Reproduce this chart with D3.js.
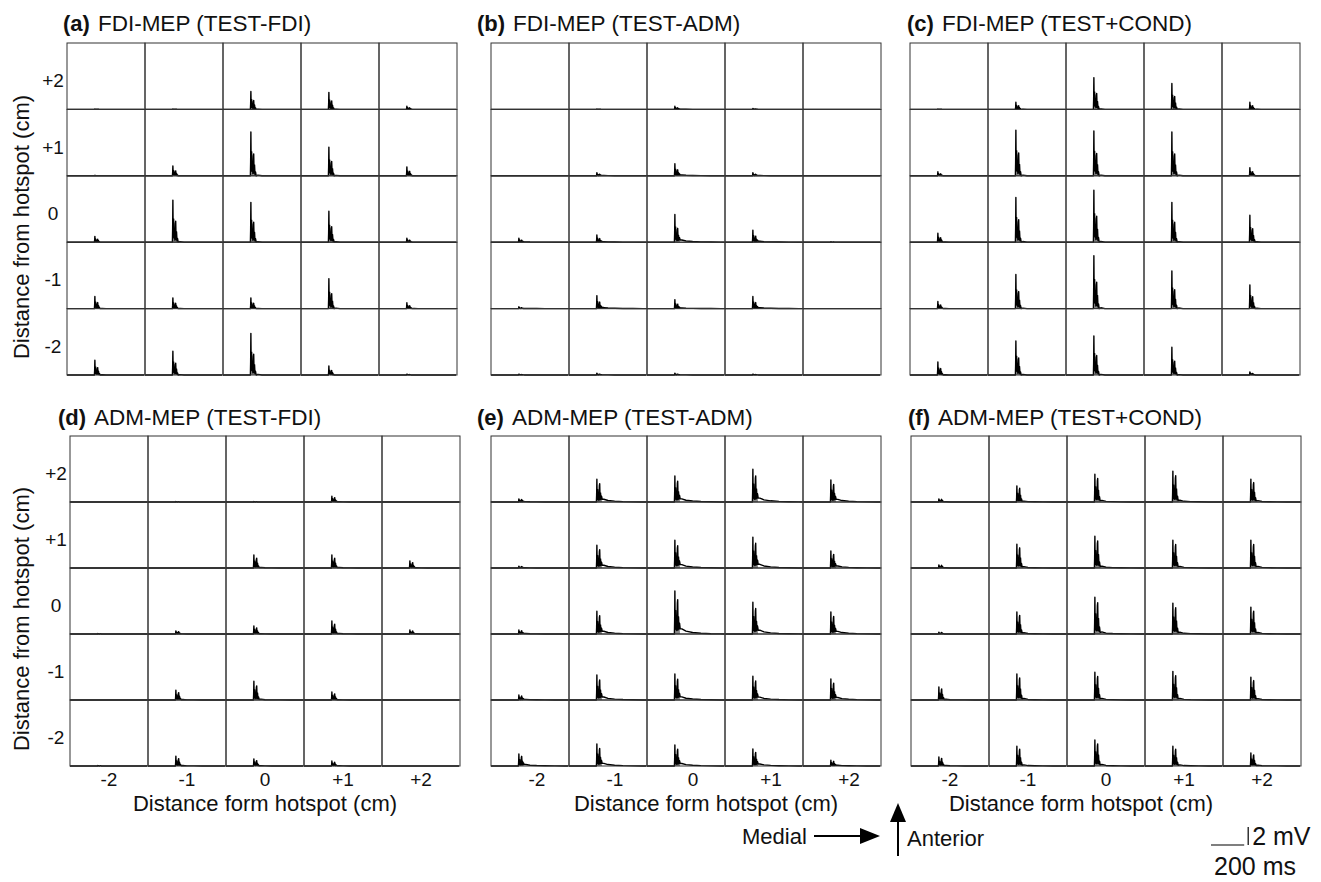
<!DOCTYPE html>
<html>
<head>
<meta charset="utf-8">
<script src="https://cdn.jsdelivr.net/npm/d3@7"></script>
<style>
  body { margin: 0; background: #fff; }
  text { font-family: "Liberation Sans", Arial, Helvetica, sans-serif; fill: #111; }
</style>
</head>
<body>
<div class="fixed"></div>
<script>
// stimulation grid, cm from hotspot
var colLabels = ["-2", "-1", "0", "+1", "+2"];   // medial direction
var rowLabels = ["+2", "+1", "0", "-1", "-2"];   // anterior direction

var panelLetters = ["(a)", "(b)", "(c)", "(d)", "(e)", "(f)"];
var panelTitles = [
    "FDI-MEP (TEST-FDI)", "FDI-MEP (TEST-ADM)", "FDI-MEP (TEST+COND)",
    "ADM-MEP (TEST-FDI)", "ADM-MEP (TEST-ADM)", "ADM-MEP (TEST+COND)"
];

// first MEP peak (mV) in each cell, rows +2 .. -2, columns -2 .. +2
var fdiTestFdi = [
    [0.05, 0.05, 2.0, 1.9, 0.35],
    [0.05, 1.1, 4.9, 3.2, 1.0],
    [0.65, 4.7, 4.45, 3.45, 0.45],
    [1.35, 1.2, 1.2, 3.35, 0.65],
    [1.65, 2.65, 4.65, 1.0, 0.1]
];
var fdiTestAdm = [
    [0, 0.05, 0.35, 0.1, 0],
    [0, 0.35, 1.35, 0.35, 0],
    [0.45, 0.8, 3.1, 1.35, 0.05],
    [0.2, 1.45, 1.0, 1.35, 0],
    [0.1, 0.2, 0.2, 0.1, 0]
];
var fdiTestCond = [
    [0.05, 0.8, 3.55, 2.9, 0.8],
    [0.45, 5.1, 5.0, 4.9, 0.9],
    [1.0, 5.0, 5.8, 4.45, 3.0],
    [0.8, 3.8, 5.9, 4.2, 2.65],
    [1.45, 3.8, 4.35, 3.1, 0.35]
];
var admTestFdi = [
    [0, 0.05, 0.05, 0.65, 0],
    [0, 0, 1.45, 1.45, 0.8],
    [0.05, 0.35, 0.9, 1.45, 0.45],
    [0, 1.1, 2.1, 0.9, 0],
    [0.05, 1.1, 0.8, 0.55, 0]
];
var admTestAdm = [
    [0.35, 2.55, 2.9, 3.65, 2.45],
    [0.2, 2.55, 3.1, 3.45, 1.9],
    [0.45, 2.55, 4.8, 3.55, 2.45],
    [0.55, 2.8, 2.9, 2.65, 2.35],
    [1.35, 2.45, 2.35, 1.9, 0.65]
];
var admTestCond = [
    [0.35, 1.8, 3.1, 3.45, 2.55],
    [0.35, 2.65, 3.55, 3.1, 3.1],
    [0.2, 2.45, 4.1, 3.45, 3.0],
    [1.45, 2.9, 3.1, 3.2, 2.55],
    [1.0, 2.2, 2.9, 2.2, 1.45]
];
var panelPeaks = [fdiTestFdi, fdiTestAdm, fdiTestCond, admTestFdi, admTestAdm, admTestCond];

// size of the second peak and of the slow tail, relative to the first peak
var secondPeak = [0.5, 0.5, 0.5, 0.75, 0.8, 0.85];
var tailLevel  = [0, 0.08, 0, 0.03, 0.12, 0.04];

// averaged MEP shape: ms after onset, weight of 1st peak, of 2nd peak, of tail
var mepShape = [
    [0, 0, 0, 0], [1.5, 0.3, 0, 0], [3, 1, 0, 0], [5, 0.12, 0, 0],
    [7.5, 0.55, 0, 0], [10, 0.1, 0, 0], [12.5, 0.25, 0, 0], [15, 0, 0.1, 0],
    [18, 0, 0.9, 0], [20, 0, 1, 0], [22.5, 0, 0.12, 0], [25, 0, 0.5, 0],
    [28, 0, 0.06, 0.6], [31, 0, 0.18, 0.9], [35, 0, 0, 1], [45, 0, 0.03, 0.8],
    [70, 0, 0, 0.55], [110, 0, 0, 0.3], [160, 0, 0, 0.15], [220, 0, 0, 0.06],
    [280, 0, 0, 0.02]
];

var sweepMs = 470;      // one cell = one sweep
var onsetMs = 165;
var scaleMs = 200;
var scaleMv = 2;

// layout
var chart_width  = 1321;
var chart_height = 882;
var grid_w = 390;
var panels = [
    { x: 67,  y: 43,  h: 332, tx: 63,  ty: 31 },
    { x: 491, y: 43,  h: 332, tx: 477, ty: 31 },
    { x: 910, y: 43,  h: 332, tx: 907, ty: 31 },
    { x: 70,  y: 436, h: 330, tx: 58,  ty: 425 },
    { x: 491, y: 436, h: 330, tx: 477, ty: 425 },
    { x: 911, y: 436, h: 330, tx: 908, ty: 425 }
];

var svg = d3.select(".fixed")
    .append("svg")
    .attr("width", chart_width)
    .attr("height", chart_height);

var cell_w = grid_w / 5;
var cell_h = 66.3;

var x_time = d3.scaleLinear().domain([0, sweepMs]).range([0, cell_w]);
var y_amp  = d3.scaleLinear().domain([0, 7.4]).range([cell_h, 0]);

function tracePoints(peak, p, fullTail) {
    var pts = [[0, 0], [onsetMs - 4, 0]];
    mepShape.forEach(function(s) {
        if (!fullTail && s[0] > 31) return;
        var v = s[1] * peak + s[2] * peak * secondPeak[p] + s[3] * peak * tailLevel[p];
        pts.push([onsetMs + s[0], v]);
    });
    if (fullTail) pts.push([sweepMs - 6, 0]);
    else pts.push([onsetMs + 34, 0]);
    return pts;
}

var line = d3.line()
    .x(function(d) { return x_time(d[0]); })
    .y(function(d) { return y_amp(d[1]); });

var area = d3.area()
    .x(function(d) { return x_time(d[0]); })
    .y0(y_amp(0))
    .y1(function(d) { return y_amp(d[1]); });

panels.forEach(function(pl, p) {
    var x_band = d3.scaleBand().domain(colLabels).range([pl.x, pl.x + grid_w]);
    var y_band = d3.scaleBand().domain(rowLabels).range([pl.y, pl.y + pl.h]);
    var g = svg.append("g").attr("class", "panel-" + p);

    // title
    var t = g.append("text")
        .attr("x", pl.tx)
        .attr("y", pl.ty);
    t.append("tspan")
        .style("font-weight", "bold")
        .style("font-size", "22px")
        .text(panelLetters[p]);
    t.append("tspan")
        .attr("dx", 8)
        .style("font-size", "22.5px")
        .text(panelTitles[p]);

    // cells
    var cells = [];
    rowLabels.forEach(function(r, i) {
        colLabels.forEach(function(c, j) {
            cells.push({ r: r, c: c, peak: panelPeaks[p][i][j] });
        });
    });

    var cell = g.selectAll(".cell")
        .data(cells)
        .enter()
        .append("g")
        .attr("class", "cell")
        .attr("transform", function(d) {
            return "translate(" + x_band(d.c) + "," + (y_band(d.r) + y_band.bandwidth() - cell_h) + ")";
        });

    cell.append("path")
        .attr("d", function(d) { return area(tracePoints(d.peak, p, false)); })
        .attr("fill", "#8a8a8a")
        .attr("stroke", "none");

    // cell frames
    g.selectAll(".frame")
        .data(cells)
        .enter()
        .append("rect")
        .attr("x", function(d) { return x_band(d.c); })
        .attr("y", function(d) { return y_band(d.r); })
        .attr("width", x_band.bandwidth())
        .attr("height", y_band.bandwidth())
        .attr("fill", "none")
        .attr("stroke", "#333")
        .attr("stroke-width", 1);

    cell.append("path")
        .attr("d", function(d) { return line(tracePoints(d.peak, p, true)); })
        .attr("fill", "none")
        .attr("stroke", "#000")
        .attr("stroke-width", 1.4)
        .attr("stroke-linejoin", "round");

    // row labels on the left column of panels
    if (p === 0 || p === 3) {
        g.selectAll(".row-label")
            .data(rowLabels)
            .enter()
            .append("text")
            .attr("x", pl.x - 14)
            .attr("y", function(d) { return y_band(d) + y_band.bandwidth() / 2 + 11; })
            .attr("text-anchor", "middle")
            .style("font-size", "19px")
            .text(function(d) { return d; });

        g.append("text")
            .attr("transform", "rotate(-90)")
            .attr("x", -(pl.y + pl.h / 2 + 18))
            .attr("y", 29)
            .attr("text-anchor", "middle")
            .style("font-size", "22px")
            .text("Distance from hotspot (cm)");
    }

    // column labels on the bottom row of panels
    if (p >= 3) {
        var dx = [0, 7, 0][p - 3];
        var lx = [265, 706, 1081][p - 3];
        g.selectAll(".col-label")
            .data(colLabels)
            .enter()
            .append("text")
            .attr("x", function(d) { return x_band(d) + x_band.bandwidth() / 2 + dx; })
            .attr("y", pl.y + pl.h + 20)
            .attr("text-anchor", "middle")
            .style("font-size", "19px")
            .text(function(d) { return d; });

        g.append("text")
            .attr("x", lx)
            .attr("y", 811)
            .attr("text-anchor", "middle")
            .style("font-size", "22px")
            .text("Distance form hotspot (cm)");
    }
});

// orientation arrows
var ann = svg.append("g").attr("class", "annotation");
ann.append("text")
    .attr("x", 742).attr("y", 844)
    .style("font-size", "22px")
    .text("Medial");
ann.append("line")
    .attr("x1", 814).attr("x2", 866)
    .attr("y1", 836).attr("y2", 836)
    .attr("stroke", "#000").attr("stroke-width", 2);
ann.append("path")
    .attr("d", "M880,836 L860,828 L860,844 Z")
    .attr("fill", "#000");
ann.append("line")
    .attr("x1", 898).attr("x2", 898)
    .attr("y1", 856).attr("y2", 818)
    .attr("stroke", "#000").attr("stroke-width", 2);
ann.append("path")
    .attr("d", "M898,803 L890,822 L906,822 Z")
    .attr("fill", "#000");
ann.append("text")
    .attr("x", 907).attr("y", 846)
    .style("font-size", "22px")
    .text("Anterior");

// scale bar, same scales as the traces
var sb = svg.append("g")
    .attr("class", "scale-bar")
    .attr("transform", "translate(1211,845)");
sb.append("line")
    .attr("x1", 0).attr("x2", x_time(scaleMs))
    .attr("y1", 0).attr("y2", 0)
    .attr("stroke", "#000").attr("stroke-width", 1.2);
sb.append("line")
    .attr("x1", x_time(scaleMs) + 4).attr("x2", x_time(scaleMs) + 4)
    .attr("y1", 0).attr("y2", y_amp(scaleMv) - cell_h)
    .attr("stroke", "#000").attr("stroke-width", 1.2);
sb.append("text")
    .attr("x", x_time(scaleMs) + 8).attr("y", 0)
    .style("font-size", "25px")
    .text(scaleMv + " mV");
sb.append("text")
    .attr("x", 3).attr("y", 30)
    .style("font-size", "25px")
    .text(scaleMs + " ms");
</script>
</body>
</html>
